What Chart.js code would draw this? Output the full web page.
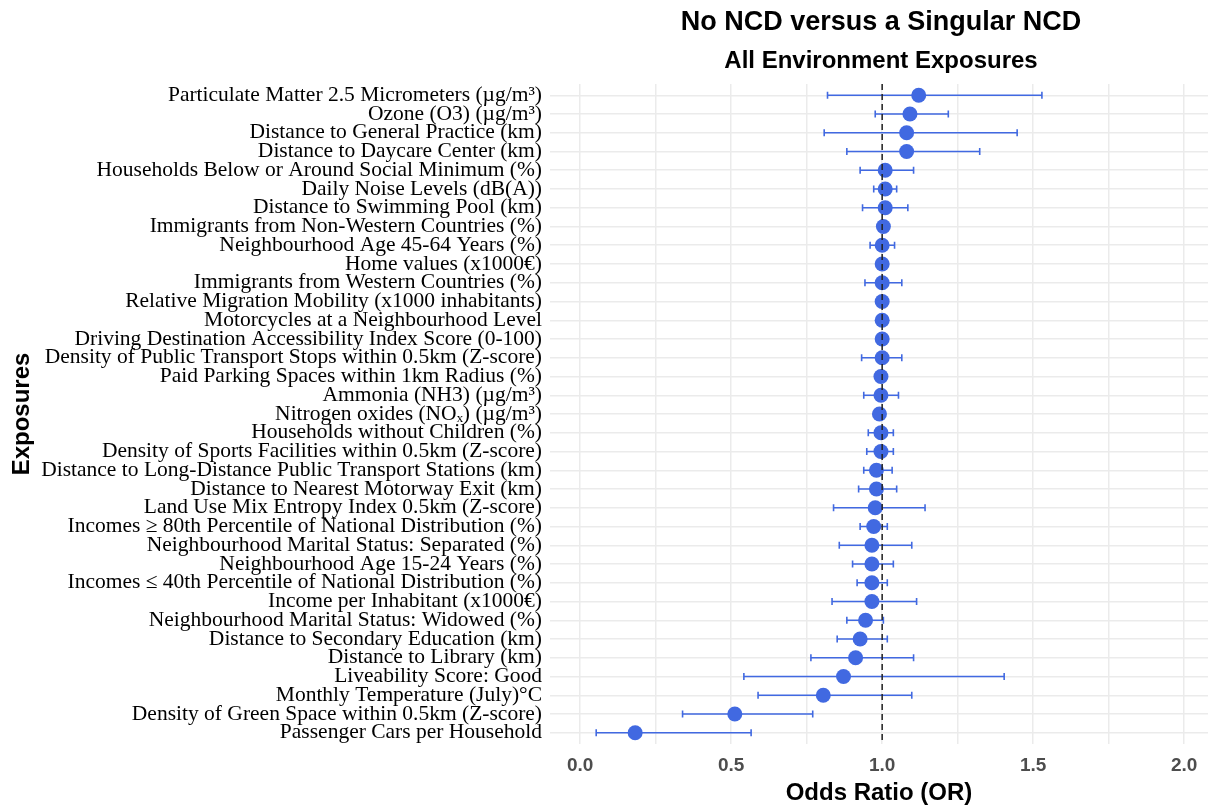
<!DOCTYPE html>
<html>
<head>
<meta charset="utf-8">
<script src="https://cdn.jsdelivr.net/npm/chart.js@4"></script>
<style>
    html, body { margin: 0; padding: 0; background: #ffffff; overflow: hidden; }
    #wrap { width: 1208px; height: 805px; position: relative; }
</style>
</head>
<body>
<div id="wrap"><canvas id="forestChart"></canvas></div>
<script>
const exposures = [
    "Particulate Matter 2.5 Micrometers (µg/m³)",
    "Ozone (O3) (µg/m³)",
    "Distance to General Practice (km)",
    "Distance to Daycare Center (km)",
    "Households Below or Around Social Minimum (%)",
    "Daily Noise Levels (dB(A))",
    "Distance to Swimming Pool (km)",
    "Immigrants from Non-Western Countries (%)",
    "Neighbourhood Age 45-64 Years (%)",
    "Home values (x1000€)",
    "Immigrants from Western Countries (%)",
    "Relative Migration Mobility (x1000 inhabitants)",
    "Motorcycles at a Neighbourhood Level",
    "Driving Destination Accessibility Index Score (0-100)",
    "Density of Public Transport Stops within 0.5km (Z-score)",
    "Paid Parking Spaces within 1km Radius (%)",
    "Ammonia (NH3) (µg/m³)",
    "Nitrogen oxides (NOₓ) (µg/m³)",
    "Households without Children (%)",
    "Density of Sports Facilities within 0.5km (Z-score)",
    "Distance to Long-Distance Public Transport Stations (km)",
    "Distance to Nearest Motorway Exit (km)",
    "Land Use Mix Entropy Index 0.5km (Z-score)",
    "Incomes ≥ 80th Percentile of National Distribution (%)",
    "Neighbourhood Marital Status: Separated (%)",
    "Neighbourhood Age 15-24 Years (%)",
    "Incomes ≤ 40th Percentile of National Distribution (%)",
    "Income per Inhabitant (x1000€)",
    "Neighbourhood Marital Status: Widowed (%)",
    "Distance to Secondary Education (km)",
    "Distance to Library (km)",
    "Liveability Score: Good",
    "Monthly Temperature (July)°C",
    "Density of Green Space within 0.5km (Z-score)",
    "Passenger Cars per Household"
];

const oddsRatios = [
    1.121, 1.092, 1.081, 1.081, 1.010, 1.010, 1.010, 1.004, 1.000, 1.000,
    1.000, 1.000, 1.000, 1.000, 1.000, 0.996, 0.996, 0.991, 0.996, 0.996,
    0.981, 0.981, 0.977, 0.972, 0.966, 0.966, 0.966, 0.966, 0.945, 0.927,
    0.912, 0.872, 0.805, 0.512, 0.182
];

const lowerCI = [
    0.819, 0.977, 0.808, 0.883, 0.927, 0.972, 0.935, 0.990, 0.960, 0.990,
    0.943, 0.995, 0.995, 0.995, 0.932, 0.990, 0.939, 0.980, 0.954, 0.949,
    0.939, 0.922, 0.839, 0.927, 0.858, 0.902, 0.917, 0.834, 0.883, 0.851,
    0.764, 0.542, 0.589, 0.339, 0.053
];

const upperCI = [
    1.529, 1.219, 1.447, 1.323, 1.104, 1.048, 1.085, 1.020, 1.041, 1.005,
    1.065, 1.005, 1.005, 1.005, 1.065, 1.002, 1.054, 1.000, 1.037, 1.037,
    1.033, 1.048, 1.142, 1.017, 1.098, 1.037, 1.017, 1.114, 1.004, 1.017,
    1.104, 1.404, 1.098, 0.770, 0.566
];

const gridTicks = [0, 0.25, 0.5, 0.75, 1, 1.25, 1.5, 1.75, 2];
const labelTicks = [0, 0.5, 1, 1.5, 2];
const referenceLine = 1;

const mainTitle = "No NCD versus a Singular NCD";
const subTitle = "All Environment Exposures";

const pointColor = "#4169e1";

const errorBars = {
    id: "errorBars",
    beforeDatasetsDraw(chart) {
        const { ctx, scales: { x, y } } = chart;
        ctx.save();
        ctx.strokeStyle = pointColor;
        ctx.lineWidth = 1.6;
        exposures.forEach((_, i) => {
            const py = y.getPixelForValue(i);
            const x1 = x.getPixelForValue(lowerCI[i]);
            const x2 = x.getPixelForValue(upperCI[i]);
            ctx.beginPath();
            ctx.moveTo(x1, py);
            ctx.lineTo(x2, py);
            ctx.moveTo(x1, py - 3.5);
            ctx.lineTo(x1, py + 3.5);
            ctx.moveTo(x2, py - 3.5);
            ctx.lineTo(x2, py + 3.5);
            ctx.stroke();
        });
        ctx.restore();
    },
    afterDatasetsDraw(chart) {
        const { ctx, chartArea, scales: { x } } = chart;
        const px = x.getPixelForValue(referenceLine);
        ctx.save();
        ctx.strokeStyle = "#222222";
        ctx.lineWidth = 1.5;
        ctx.setLineDash([6, 4]);
        ctx.beginPath();
        ctx.moveTo(px, chartArea.top);
        ctx.lineTo(px, chartArea.bottom);
        ctx.stroke();
        ctx.restore();
    }
};

const centeredTitles = {
    id: "centeredTitles",
    afterDraw(chart) {
        const { ctx, chartArea } = chart;
        const cx = (chartArea.left + chartArea.right) / 2 + 2;
        ctx.save();
        ctx.fillStyle = "#000000";
        ctx.textAlign = "center";
        ctx.textBaseline = "middle";
        ctx.font = "bold 27px 'Liberation Sans', Arial, sans-serif";
        ctx.fillText(mainTitle, cx, 23);
        ctx.font = "bold 24px 'Liberation Sans', Arial, sans-serif";
        ctx.fillText(subTitle, cx, 61);
        ctx.restore();
    }
};

const ctx = document.getElementById("forestChart");

new Chart(ctx, {
    type: "scatter",
    data: {
        datasets: [
            {
                label: "Odds Ratio",
                data: oddsRatios.map((v, i) => ({ x: v, y: i })),
                backgroundColor: pointColor,
                borderColor: pointColor,
                pointRadius: 7.5,
                pointHoverRadius: 7.5,
                borderWidth: 0
            }
        ]
    },
    options: {
        responsive: true,
        maintainAspectRatio: false,
        animation: false,
        layout: {
            autoPadding: false,
            padding: { top: 84, right: 0, bottom: 0, left: 0 }
        },
        plugins: {
            legend: { display: false },
            tooltip: { enabled: false }
        },
        scales: {
            x: {
                type: "linear",
                min: -0.1,
                max: 2.079,
                afterBuildTicks: function(scale) {
                    scale.ticks = gridTicks.map(v => ({ value: v }));
                },
                afterFit: function(scale) {
                    scale.height = 61;
                    scale.paddingLeft = 0;
                    scale.paddingRight = 0;
                },
                ticks: {
                    autoSkip: false,
                    maxRotation: 0,
                    padding: 10,
                    color: "#4d4d4d",
                    callback: function(value) {
                        return labelTicks.includes(value) ? value.toFixed(1) : "";
                    },
                    font: {
                        family: "'Liberation Sans', Arial, sans-serif",
                        size: 19,
                        weight: "bold"
                    }
                },
                grid: {
                    color: "#ebebeb",
                    lineWidth: 1.5,
                    drawTicks: false
                },
                border: { display: false },
                title: {
                    display: true,
                    text: "Odds Ratio (OR)",
                    color: "#000000",
                    padding: 0,
                    font: {
                        family: "'Liberation Sans', Arial, sans-serif",
                        size: 24,
                        weight: "bold",
                        lineHeight: 1
                    }
                }
            },
            y: {
                type: "linear",
                reverse: true,
                min: -0.6,
                max: exposures.length - 0.4,
                afterBuildTicks: function(scale) {
                    scale.ticks = exposures.map((_, i) => ({ value: i }));
                },
                afterFit: function(scale) {
                    scale.width = 550;
                },
                ticks: {
                    autoSkip: false,
                    padding: 8,
                    color: "#000000",
                    callback: function(value) {
                        return exposures[value];
                    },
                    font: {
                        family: "'Liberation Serif', 'Times New Roman', serif",
                        size: 21.5
                    }
                },
                grid: {
                    color: "#ebebeb",
                    lineWidth: 1.5,
                    drawTicks: false
                },
                border: { display: false },
                title: {
                    display: true,
                    text: "Exposures",
                    color: "#000000",
                    padding: { top: 10, bottom: 0 },
                    font: {
                        family: "'Liberation Sans', Arial, sans-serif",
                        size: 24,
                        weight: "bold",
                        lineHeight: 1
                    }
                }
            }
        }
    },
    plugins: [errorBars, centeredTitles]
});
</script>
</body>
</html>
